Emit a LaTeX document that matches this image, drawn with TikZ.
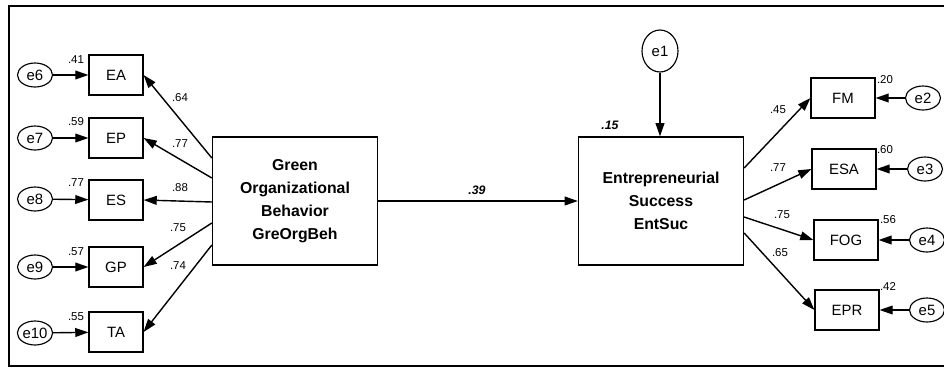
\documentclass[tikz,border=0pt]{standalone}
\usepackage{fontspec}
\setmainfont{Liberation Sans}
\usetikzlibrary{arrows.meta,shapes.geometric}

\begin{document}
\begin{tikzpicture}[x=0.02cm, y=-0.02cm, >={Triangle[length=7.5pt,width=5pt]},
  every path/.style={line width=0.8pt},
  obs/.style={rectangle, draw, line width=0.65pt, minimum width=1.08cm, minimum height=0.8cm, inner sep=0pt, font=\fontsize{8.5}{9}\selectfont},
  obsr/.style={obs, minimum width=1.28cm},
  lat/.style={rectangle, draw, line width=0.75pt, minimum width=3.3cm, minimum height=2.56cm, align=center, font=\fontsize{9}{13}\selectfont\bfseries},
  err/.style={ellipse, draw, line width=0.65pt, minimum width=0.7cm, minimum height=0.48cm, inner sep=0pt, font=\fontsize{8.5}{9}\selectfont},
  coef/.style={inner sep=0pt, font=\fontsize{6.5}{7}\selectfont},
  est/.style={inner sep=0pt, font=\fontsize{7}{8}\selectfont\bfseries\itshape}]
  \useasboundingbox (0,0) rectangle (944,369);
  \draw[line width=1.7pt] (946,6) -- (9,6) -- (9,366) -- (946,366);

  % latent constructs
  \node[lat] (GOB) at (295,201) {Green\\Organizational\\Behavior\\GreOrgBeh};
  \node[lat] (ENT) at (661,201) {Entrepreneurial\\Success\\EntSuc};
  \node[err, minimum width=0.72cm, minimum height=0.84cm] (e1) at (660,51) {e1};

  % left indicators
  \node[obs] (EA) at (116,75) {EA};
  \node[obs] (EP) at (116,138) {EP};
  \node[obs] (ES) at (116,200) {ES};
  \node[obs] (GP) at (116,267) {GP};
  \node[obs] (TA) at (116,332) {TA};
  \node[err] (e6) at (35,75) {e6};
  \node[err] (e7) at (35,138) {e7};
  \node[err] (e8) at (35,199) {e8};
  \node[err] (e9) at (35,267) {e9};
  \node[err] (e10) at (35,333) {e10};

  % right indicators
  \node[obsr] (FM) at (843,98) {FM};
  \node[obsr] (ESA) at (844,169) {ESA};
  \node[obsr] (FOG) at (846,240) {FOG};
  \node[obsr] (EPR) at (847,310) {EPR};
  \node[err] (e2) at (923,98) {e2};
  \node[err] (e3) at (925,169) {e3};
  \node[err] (e4) at (927,240) {e4};
  \node[err] (e5) at (927,310) {e5};

  % paths
  \draw[->] (GOB) -- (ENT);
  \draw[->] (e1) -- (e1 |- ENT.north);
  \draw[->] ([yshift=0.86cm]GOB.west) -- (EA.east);
  \draw[->] ([yshift=0.46cm]GOB.west) -- (EP.east);
  \draw[->] ([yshift=-0.02cm]GOB.west) -- (ES.east);
  \draw[->] ([yshift=-0.44cm]GOB.west) -- (GP.east);
  \draw[->] ([yshift=-0.88cm]GOB.west) -- (TA.east);
  \draw[->] ([yshift=0.66cm]ENT.east) -- (FM.west);
  \draw[->] ([yshift=0.02cm]ENT.east) -- (ESA.west);
  \draw[->] ([yshift=-0.32cm]ENT.east) -- (FOG.west);
  \draw[->] ([yshift=-0.64cm]ENT.east) -- (EPR.west);
  \draw[->] (e6) -- (EA);
  \draw[->] (e7) -- (EP);
  \draw[->] (e8) -- (ES);
  \draw[->] (e9) -- (GP);
  \draw[->] (e10) -- (TA);
  \draw[->] (e2) -- (FM);
  \draw[->] (e3) -- (ESA);
  \draw[->] (e4) -- (FOG);
  \draw[->] (e5) -- (EPR);

  % estimates
  \node[est] (b1) at (477,190) {.39};
  \node[est] (r1) at (610,125) {.15};
  \node[coef] (l1) at (180,98) {.64};
  \node[coef] (l2) at (180,144) {.77};
  \node[coef] (l3) at (180,188) {.88};
  \node[coef] (l4) at (178,228) {.75};
  \node[coef] (l5) at (178,266) {.74};
  \node[coef] (r6) at (76,60) {.41};
  \node[coef] (r7) at (76,122) {.59};
  \node[coef] (r8) at (76,183) {.77};
  \node[coef] (r9) at (76,252) {.57};
  \node[coef] (r10) at (76,317) {.55};
  \node[coef] (l6) at (778,110) {.45};
  \node[coef] (l7) at (778,168) {.77};
  \node[coef] (l8) at (782,215) {.75};
  \node[coef] (l9) at (780,253) {.65};
  \node[coef] (r2) at (885,80) {.20};
  \node[coef] (r3) at (885,150) {.60};
  \node[coef] (r4) at (888,220) {.56};
  \node[coef] (r5) at (888,287) {.42};
\end{tikzpicture}
\end{document}
